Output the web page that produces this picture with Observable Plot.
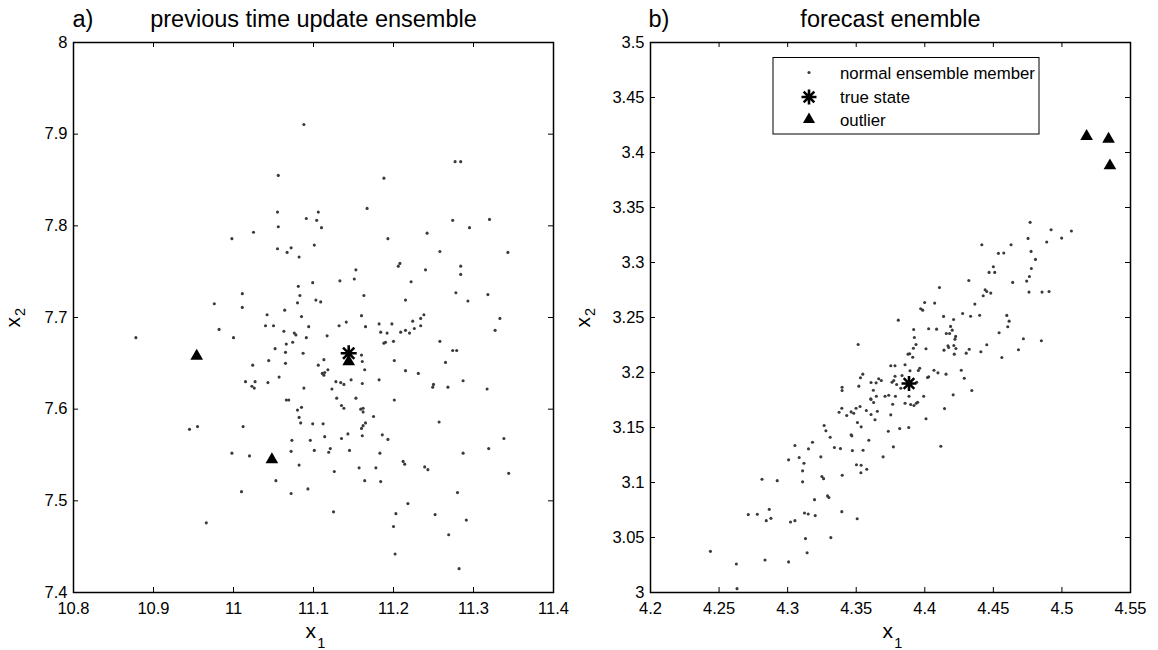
<!DOCTYPE html>
<html>
<head>
<meta charset="utf-8">
<script src="https://cdn.jsdelivr.net/npm/d3@7"></script>
<script src="https://cdn.jsdelivr.net/npm/@observablehq/plot@0.6"></script>
<style>
  html, body { margin: 0; padding: 0; background: #fff; }
  #wrap { position: relative; width: 1158px; height: 650px; overflow: hidden; background: #fff; }
  #panelA, #panelB { position: absolute; top: 0; }
  #panelA { left: 0; }
  #panelB { left: 577px; }
  svg { overflow: visible; }
</style>
</head>
<body>
<div id="wrap"><div id="panelA"></div><div id="panelB"></div></div>
<script>
// ---------------- data ----------------
const titleA = "previous time update ensemble";
const titleB = "forecast enemble";
const tagA = "a)";
const tagB = "b)";
const xTicksA = [10.8, 10.9, 11, 11.1, 11.2, 11.3, 11.4];
const yTicksA = [7.4, 7.5, 7.6, 7.7, 7.8, 7.9, 8];
const xTicksB = [4.2, 4.25, 4.3, 4.35, 4.4, 4.45, 4.5, 4.55];
const yTicksB = [3, 3.05, 3.1, 3.15, 3.2, 3.25, 3.3, 3.35, 3.4, 3.45, 3.5];
const legendLabels = ["normal ensemble member", "true state", "outlier"];

// panel a) ensemble members [x1, x2]
const membersA = [
[11.088,7.9105],[11.056,7.855],[11.188,7.852],[11.277,7.870],[11.284,7.870],[11.167,7.819],
[11.055,7.815],[11.106,7.815],[11.091,7.808],[11.104,7.806],[11.056,7.799],[11.110,7.798],[11.274,7.806],[11.320,7.807],[11.295,7.798],[10.998,7.786],[11.025,7.793],[11.193,7.786],[11.242,7.792],[11.055,7.775],[11.072,7.776],[11.067,7.771],[11.101,7.779],[11.082,7.766],[11.258,7.772],[11.343,7.771],[11.208,7.759],[11.206,7.756],[11.153,7.752],[11.240,7.752],[11.284,7.756],[11.284,7.747],[11.133,7.740],[11.151,7.742],[11.099,7.738],[11.222,7.739],[11.081,7.734],[11.083,7.724],[11.011,7.726],[10.976,7.715],[11.011,7.711],[11.103,7.719],[11.109,7.717],[11.080,7.716],[11.163,7.724],[11.215,7.719],[11.278,7.727],[11.293,7.718],[11.318,7.725],[11.064,7.708],[11.042,7.703],[11.085,7.701],[11.040,7.691],[11.050,7.691],[10.982,7.687],[10.878,7.678],[11.000,7.678],[11.063,7.685],[11.076,7.683],[11.078,7.681],[11.094,7.690],[11.091,7.678],[11.117,7.680],[11.160,7.702],[11.132,7.691],[11.141,7.695],[11.165,7.690],[11.182,7.693],[11.198,7.693],[11.184,7.684],[11.192,7.683],[11.188,7.672],[11.190,7.673],[11.200,7.674],[11.209,7.684],[11.215,7.686],[11.220,7.683],[11.224,7.696],[11.226,7.688],[11.234,7.699],[11.238,7.703],[11.234,7.691],[11.258,7.674],[11.274,7.664],[11.279,7.664],[11.333,7.699],[11.327,7.686],[11.052,7.666],[11.066,7.671],[11.074,7.673],[11.065,7.662],[11.087,7.661],[11.065,7.650],[11.044,7.653],[11.024,7.648],[11.106,7.648],[11.113,7.654],[11.160,7.659],[11.161,7.652],[11.164,7.643],[11.201,7.653],[11.118,7.643],[11.111,7.639],[11.114,7.640],[11.113,7.637],[11.057,7.635],[11.015,7.630],[11.027,7.630],[11.043,7.629],[11.023,7.625],[11.026,7.623],[11.088,7.623],[11.128,7.630],[11.134,7.629],[11.138,7.627],[11.147,7.632],[11.161,7.628],[11.123,7.622],[11.182,7.632],[11.215,7.642],[11.231,7.639],[11.265,7.651],[11.250,7.627],[11.249,7.624],[11.268,7.624],[11.287,7.631],[11.317,7.622],
[11.066,7.610],[11.069,7.610],[11.129,7.612],[11.153,7.612],[11.201,7.610],[11.080,7.599],[11.085,7.602],[11.082,7.591],[11.084,7.585],[11.135,7.604],[11.138,7.601],[11.159,7.600],[11.162,7.601],[11.162,7.597],[11.175,7.592],[11.099,7.584],[11.112,7.584],[11.165,7.585],[11.162,7.582],[11.160,7.579],[10.945,7.578],[10.955,7.581],[11.012,7.581],[11.257,7.586],[11.143,7.573],[11.161,7.571],[11.186,7.572],[11.135,7.568],[11.114,7.570],[11.073,7.566],[11.096,7.566],[11.193,7.567],[11.338,7.568],[11.072,7.554],[11.101,7.555],[11.121,7.557],[11.119,7.553],[11.145,7.555],[11.183,7.552],[11.319,7.557],[11.287,7.552],[10.998,7.552],[11.020,7.549],[11.082,7.539],[11.126,7.532],[11.157,7.536],[11.178,7.536],[11.212,7.543],[11.214,7.540],[11.239,7.537],[11.243,7.534],[11.344,7.530],[11.053,7.522],[11.164,7.522],[11.184,7.521],[11.010,7.510],[11.072,7.508],[11.093,7.513],[11.280,7.509],[11.125,7.488],[11.218,7.497],[11.203,7.486],[11.252,7.485],[11.291,7.479],[10.966,7.476],[11.200,7.472],[11.269,7.463],[11.202,7.442],[11.282,7.426]
];
const outliersA = [[10.954,7.658],[11.048,7.545],[11.144,7.652]];
const truthA = [[11.144,7.661]];

// panel b) ensemble members [x1, x2]
const membersB = [
[4.4768,3.3365],[4.4921,3.3298],[4.5069,3.3286],[4.4998,3.3222],[4.4753,3.3219],[4.4889,3.3186],[4.4416,3.3162],[4.4629,3.3162],[4.4775,3.3101],[4.4537,3.3083],[4.4576,3.3086],[4.4807,3.3028],[4.4500,3.2962],[4.4469,3.2910],[4.4510,3.2910],[4.4777,3.2946],[4.4763,3.2873],[4.4743,3.2831],[4.4641,3.2819],[4.4321,3.2837],[4.4107,3.2773],[4.4440,3.2752],[4.4452,3.2737],[4.4481,3.2722],[4.4426,3.2698],[4.4760,3.2731],[4.4855,3.2731],[4.4906,3.2737],[4.4365,3.2622],[4.3999,3.2637],[4.4072,3.2631],[4.3970,3.2580],[4.3985,3.2567],[4.4276,3.2537],[4.4334,3.2512],[4.4400,3.2521],[4.4137,3.2510],[4.4210,3.2482],[4.3807,3.2476],[4.4598,3.2519],[4.4615,3.2467],[4.4605,3.2416],[4.4188,3.2419],[4.4200,3.2385],[4.3919,3.2391],[4.4028,3.2398],[4.4086,3.2394],[4.4157,3.2355],[4.4181,3.2355],[4.4225,3.2328],[4.4220,3.2303],[4.4542,3.2361],[4.4719,3.2307],[4.4850,3.2288],[4.3924,3.2318],[4.3936,3.2255],[4.3917,3.2221],[4.3514,3.2255],[4.4009,3.2216],[4.4169,3.2243],[4.4174,3.2227],[4.4140,3.2203],[4.4212,3.2246],[4.4227,3.2218],[4.4215,3.2167],[4.4302,3.2176],[4.4324,3.2212],[4.4409,3.2188],[4.4452,3.2252],[4.4683,3.2207],[4.4562,3.2136],[4.3878,3.2167],[4.3890,3.2170],[4.3912,3.2139],[4.3752,3.2061],[4.3783,3.2061],[4.3856,3.2070],[4.3963,3.2039],[4.3953,3.2018],[4.3892,3.2016],[4.4067,3.2021],[4.4096,3.1997],[4.4155,3.1985],[4.4266,3.2021],[4.4288,3.1948],[4.3548,3.1985],[4.3531,3.1952],[4.3519,3.1876],[4.3608,3.1909],[4.3645,3.1906],[4.3664,3.1943],[4.3683,3.1927],[4.3761,3.1912],[4.3774,3.1927],[4.3783,3.1966],[4.3795,3.1891],[4.3834,3.1973],[4.4028,3.1961],[4.4020,3.1955],[4.3941,3.1912],[4.4343,3.1836],[4.4207,3.1797],[4.3397,3.1866],[4.3397,3.1836],[4.3625,3.1839],[4.3825,3.1857],[4.3606,3.1761],[4.3647,3.1784],[4.3710,3.1784],[4.3737,3.1793],[4.3786,3.1784],[4.3885,3.1784],[4.3992,3.1784],
[4.3608,3.1754],[4.3627,3.1727],[4.3395,3.1675],[4.3375,3.1639],[4.3431,3.1609],[4.3463,3.1642],[4.3482,3.1630],[4.3499,3.1675],[4.3528,3.1691],[4.3574,3.1654],[4.3608,3.1618],[4.3654,3.1648],[4.3637,3.1570],[4.3766,3.1712],[4.3752,3.1615],[4.3856,3.1721],[4.3897,3.1709],[4.3921,3.1700],[4.3938,3.1721],[4.3948,3.1730],[4.4009,3.1579],[4.4144,3.1672],[4.3266,3.1518],[4.3279,3.1470],[4.3310,3.1411],[4.3385,3.1308],[4.3341,3.1318],[4.3463,3.1433],[4.3468,3.1424],[4.3509,3.1545],[4.3536,3.1506],[4.3734,3.1466],[4.3817,3.1490],[4.3883,3.1500],[4.3592,3.1384],[4.3472,3.1290],[4.3550,3.1293],[4.3771,3.1324],[4.3696,3.1233],[4.4117,3.1329],[4.3181,3.1366],[4.3152,3.1306],[4.3053,3.1336],[4.3084,3.1227],[4.3007,3.1206],[4.3119,3.1175],[4.3242,3.1233],[4.3109,3.1106],[4.3109,3.1006],[4.3250,3.1054],[4.3262,3.1035],[4.3398,3.1066],[4.3502,3.1161],[4.3536,3.1157],[4.3534,3.1088],[4.3577,3.1121],[4.2813,3.1030],[4.2924,3.1017],[4.3196,3.0844],[4.3291,3.0878],[4.3301,3.0863],[4.2713,3.0708],[4.2779,3.0711],[4.2866,3.0756],[4.2878,3.0674],[4.2844,3.0653],[4.3021,3.0641],[4.3053,3.0653],[4.3123,3.0723],[4.3150,3.0714],[4.3201,3.0699],[4.3395,3.0735],[4.3507,3.0671],[4.3130,3.0490],[4.3315,3.0499],[4.3142,3.0362],[4.2437,3.0374],[4.2835,3.0296],[4.3007,3.0278],[4.2626,3.0259],[4.2631,3.0035]
];
const outliersB = [[4.518,3.4147],[4.534,3.4123],[4.535,3.388]];
const truthB = [[4.3885,3.190]];

// ---------------- drawing ----------------
const FONT = "'Liberation Sans', Arial, Helvetica, sans-serif";
const MEMBER_COLOR = "#3a3a3a";
const MEMBER_R = 1.55;

// eight-armed asterisk like MATLAB's '*' marker
const asterisk8 = {
  draw(ctx, size) {
    const r = Math.sqrt(size / Math.PI);
    const d = r * Math.SQRT1_2;
    ctx.moveTo(-r, 0); ctx.lineTo(r, 0);
    ctx.moveTo(0, -r); ctx.lineTo(0, r);
    ctx.moveTo(-d, -d); ctx.lineTo(d, d);
    ctx.moveTo(-d, d); ctx.lineTo(d, -d);
  }
};

function panel(o) {
  const fmt = d => String(d);
  return Plot.plot({
    width: 580,
    height: 650,
    marginLeft: 73,
    marginRight: 27,
    marginTop: 42,
    marginBottom: 58,
    style: {fontFamily: FONT, fontSize: "16.5px", color: "black", background: "white", overflow: "visible"},
    x: {domain: o.xDomain},
    y: {domain: o.yDomain},
    marks: [
      // inward ticks on all four sides
      Plot.tickX(o.xTicks, {x: d => d, insetTop: 545, stroke: "black", strokeWidth: 1}),
      Plot.tickX(o.xTicks, {x: d => d, insetBottom: 545, stroke: "black", strokeWidth: 1}),
      Plot.tickY(o.yTicks, {y: d => d, insetRight: 475, stroke: "black", strokeWidth: 1}),
      Plot.tickY(o.yTicks, {y: d => d, insetLeft: 475, stroke: "black", strokeWidth: 1}),
      Plot.axisX(o.xTicks, {anchor: "bottom", tickSize: 0, tickPadding: 10, tickFormat: fmt, label: null}),
      Plot.axisY(o.yTicks, {anchor: "left", tickSize: 0, tickPadding: 6, tickFormat: fmt, label: null}),
      Plot.dot(o.members, {x: d => d[0], y: d => d[1], r: MEMBER_R, fill: MEMBER_COLOR, stroke: null}),
      Plot.dot(o.outliers, {x: d => d[0], y: d => d[1], symbol: "triangle", r: 4.7, fill: "black", stroke: null}),
      Plot.dot(o.truth, {x: d => d[0], y: d => d[1], symbol: asterisk8, r: o.starR, fill: "none", stroke: "black", strokeWidth: 2.6}),
      Plot.frame({stroke: "black", strokeWidth: 1.5}),
      // titles
      Plot.text([o.title], {text: d => d, frameAnchor: "top", lineAnchor: "bottom", dy: -16, fontSize: 23.5}),
      Plot.text([o.tag], {text: d => d, frameAnchor: "top-left", textAnchor: "start", lineAnchor: "bottom", dx: o.tagDx, dy: -16, fontSize: 23.5}),
      // x label: x with subscript 1
      Plot.text(["x"], {text: d => d, frameAnchor: "bottom", textAnchor: "end", lineAnchor: "bottom", dx: 2.5, dy: 45, fontSize: 21}),
      Plot.text(["1"], {text: d => d, frameAnchor: "bottom", textAnchor: "start", lineAnchor: "bottom", dx: 3.8, dy: 55.5, fontSize: 14.5}),
      // y label: x with subscript 2, rotated
      Plot.text(["x"], {text: d => d, frameAnchor: "left", textAnchor: "end", lineAnchor: "bottom", rotate: -90, dx: o.ylabDx, dy: -0.5, fontSize: 21}),
      Plot.text(["2"], {text: d => d, frameAnchor: "left", textAnchor: "start", lineAnchor: "bottom", rotate: -90, dx: o.ylabDx + 5, dy: -1.5, fontSize: 14.5})
    ]
  });
}

const chartA = panel({
  xDomain: [10.8, 11.4], yDomain: [7.4, 8], xTicks: xTicksA, yTicks: yTicksA,
  members: membersA, outliers: outliersA, truth: truthA,
  title: titleA, tag: tagA, tagDx: -1, ylabDx: -53.5, starR: 8
});
const chartB = panel({
  xDomain: [4.2, 4.55], yDomain: [3, 3.5], xTicks: xTicksB, yTicks: yTicksB,
  members: membersB, outliers: outliersB, truth: truthB,
  title: titleB, tag: tagB, tagDx: -2, ylabDx: -60.5, starR: 7.5
});
document.getElementById("panelA").appendChild(chartA);
document.getElementById("panelB").appendChild(chartB);

// legend box inside panel b)
(function legend() {
  const svg = d3.select(chartB);
  const g = svg.append("g").attr("font-family", FONT).attr("font-size", 16.8).attr("text-anchor", "start");
  const box = {x: 196, y: 57.5, w: 266, h: 76.5};
  g.append("rect").attr("x", box.x).attr("y", box.y).attr("width", box.w).attr("height", box.h)
    .attr("fill", "white").attr("stroke", "black").attr("stroke-width", 1);
  const symX = box.x + 36, textX = box.x + 67;
  const rows = [box.y + 15, box.y + 39.5, box.y + 62];
  // symbols
  g.append("circle").attr("cx", symX).attr("cy", rows[0]).attr("r", MEMBER_R).attr("fill", MEMBER_COLOR);
  g.append("path").attr("transform", `translate(${symX},${rows[1]})`)
    .attr("d", d3.symbol(asterisk8, Math.PI * 7.5 * 7.5)()).attr("fill", "none").attr("stroke", "black").attr("stroke-width", 2.6);
  g.append("path").attr("transform", `translate(${symX},${rows[2]})`)
    .attr("d", d3.symbol(d3.symbolTriangle, Math.PI * 4.5 * 4.5)()).attr("fill", "black");
  legendLabels.forEach((t, i) => {
    g.append("text").attr("x", textX).attr("y", rows[i] + 6).attr("fill", "black").attr("text-anchor", "start").text(t);
  });
})();
</script>
</body>
</html>
